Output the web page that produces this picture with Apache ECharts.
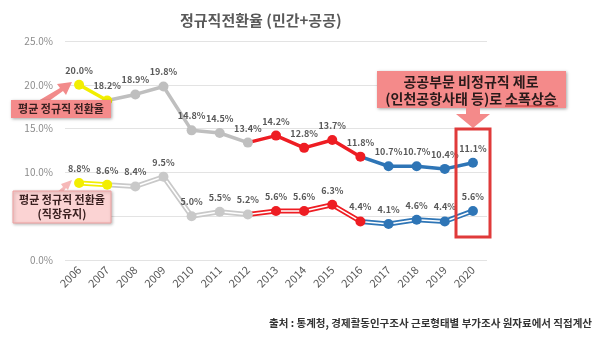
<!DOCTYPE html>
<html><head><meta charset="utf-8">
<script src="https://cdn.jsdelivr.net/npm/echarts@6/dist/echarts.min.js"></script>
<style>html,body{margin:0;padding:0;background:#fff}#c{width:600px;height:337px}</style>
</head><body><div id="c"></div>
<script>
const years = ['2006','2007','2008','2009','2010','2011','2012','2013','2014','2015','2016','2017','2018','2019','2020'];
const totalRate = [20.0,18.2,18.9,19.8,14.8,14.5,13.4,14.2,12.8,13.7,11.8,10.7,10.7,10.4,11.1];
const stayRate = [8.8,8.6,8.4,9.5,5.0,5.5,5.2,5.6,5.6,6.3,4.4,4.1,4.6,4.4,5.6];
const yTicks = [0,5,10,15,20,25];
// segments: [startIndex, endIndex, colorKey]
const segments = [[0,1,'y'],[1,6,'g'],[6,10,'r'],[10,14,'b']];
const pointGroups = ['y','y','g','g','g','g','g','r','r','r','r','b','b','b','b'];

const colors = {y:'#f2ee00', g:'#bfbfbf', r:'#ee1d23', b:'#2e75b6'};
const lowColors = {y:'#f2ee00', g:'#c9c9c9', r:'#ee1d23', b:'#2e75b6'};
const FONT = '"Noto Sans CJK KR", "Noto Sans", sans-serif';

function segData(vals, s, e){ return vals.map((v,i)=> (i>=s && i<=e) ? v : '-'); }

const series = [];
segments.forEach(([s,e,k])=>{
  series.push({type:'line', data:segData(totalRate,s,e), showSymbol:false, silent:true,
    lineStyle:{color:colors[k], width:3.5}, z:2});
  series.push({type:'line', data:segData(stayRate,s,e), showSymbol:false, silent:true,
    lineStyle:{color:lowColors[k], width:5}, z:2});
  series.push({type:'line', data:segData(stayRate,s,e), showSymbol:false, silent:true,
    lineStyle:{color:'#ffffff', width:1.5}, z:3});
});
function markerSeries(vals, cmap){
  return {type:'line', z:5, lineStyle:{width:0, opacity:0}, symbol:'circle', symbolSize:10,
    data: vals.map((v,i)=>({value:v, itemStyle:{color:cmap[pointGroups[i]]}})),
    label:{show:true, position:'top', distance:5, formatter:p=>p.value.toFixed(1)+'%',
      color:'#595959', fontSize:9, fontWeight:'bold', fontFamily:FONT}};
}
series.push(markerSeries(totalRate, colors));
series.push(markerSeries(stayRate, lowColors));

const Z = 100;
const chart = echarts.init(document.getElementById('c'));
chart.setOption({
  animation:false,
  backgroundColor:'#fff',
  title:{text:'정규직전환율 (민간+공공)', left:175, top:8,
    textStyle:{fontSize:15, fontWeight:'bold', color:'#595959', fontFamily:FONT}},
  grid:{left:65, right:113, top:41, bottom:77},
  xAxis:{type:'category', data:years, boundaryGap:true,
    axisLine:{show:false}, axisTick:{show:false},
    axisLabel:{rotate:45, color:'#595959', fontSize:11, margin:8, fontFamily:FONT}},
  yAxis:{type:'value', min:yTicks[0], max:yTicks[yTicks.length-1], interval:5,
    axisLine:{show:false}, axisTick:{show:false},
    splitLine:{lineStyle:{color:'#e3e3e3', width:1}},
    axisLabel:{formatter:v=>v.toFixed(1)+'%', color:'#8c8c8c', fontSize:10, margin:12, fontFamily:FONT}},
  series: series,
  graphic:[
    // arrow to 2006 upper
    {type:'polygon', z:Z, shape:{points:[[38,101],[60,88],[57,84],[72,82],[66,95],[63,91],[42,106]]},
      style:{fill:'#f28b8b'}},
    {type:'rect', z:Z, shape:{x:11,y:100,width:100,height:18}, style:{fill:'#f48a8a', shadowBlur:3, shadowColor:'rgba(0,0,0,0.35)', shadowOffsetX:1, shadowOffsetY:1}},
    {type:'text', z:Z+1, style:{x:61, y:109, text:'평균 정규직 전환율', align:'center', verticalAlign:'middle', fill:'#3a2020', font:'bold 11px '+FONT}},
    // arrow to 2006 lower
    {type:'polygon', z:Z, shape:{points:[[56,193],[63,187],[61,184],[72,180],[68,190],[66,188],[60,196]]},
      style:{fill:'#f6b8b8'}},
    {type:'rect', z:Z, shape:{x:13,y:191,width:98,height:32}, style:{fill:'#fbd3d3', stroke:'#f0a0a0', lineWidth:1, shadowBlur:3, shadowColor:'rgba(0,0,0,0.25)', shadowOffsetX:1, shadowOffsetY:1}},
    {type:'text', z:Z+1, style:{x:62, y:207, text:'평균 정규직 전환율\n(직장유지)', align:'center', verticalAlign:'middle', lineHeight:14, fill:'#3a2020', font:'bold 11px '+FONT}},
    // top right callout
    {type:'rect', z:Z, shape:{x:377,y:71,width:189,height:37}, style:{fill:'#f48a8a', shadowBlur:3, shadowColor:'rgba(0,0,0,0.35)', shadowOffsetX:1, shadowOffsetY:1}},
    {type:'text', z:Z+1, style:{x:471, y:90, text:'공공부문 비정규직 제로\n(인천공항사태 등)로 소폭상승', align:'center', verticalAlign:'middle', lineHeight:17, fill:'#2a1a1a', font:'bold 14px '+FONT}},
    {type:'line', z:Z+1, shape:{x1:505,y1:106,x2:558,y2:106}, style:{stroke:'#c23030', lineWidth:1}},
    // down arrow
    {type:'polygon', z:Z, shape:{points:[[466,108],[480,108],[480,114],[490,114],[473,128],[456,114],[466,114]]},
      style:{fill:'#f48a8a'}},
    // red rect around 2020
    {type:'rect', z:Z, shape:{x:456,y:129,width:34,height:108}, style:{fill:'none', stroke:'#e03a3a', lineWidth:3}},
    // source
    {type:'text', z:Z, style:{x:592, y:323, text:'출처 : 통계청, 경제활동인구조사 근로형태별 부가조사 원자료에서 직접계산', align:'right', verticalAlign:'middle', fill:'#333', font:'bold 10.5px '+FONT}}
  ]
});
</script></body></html>
